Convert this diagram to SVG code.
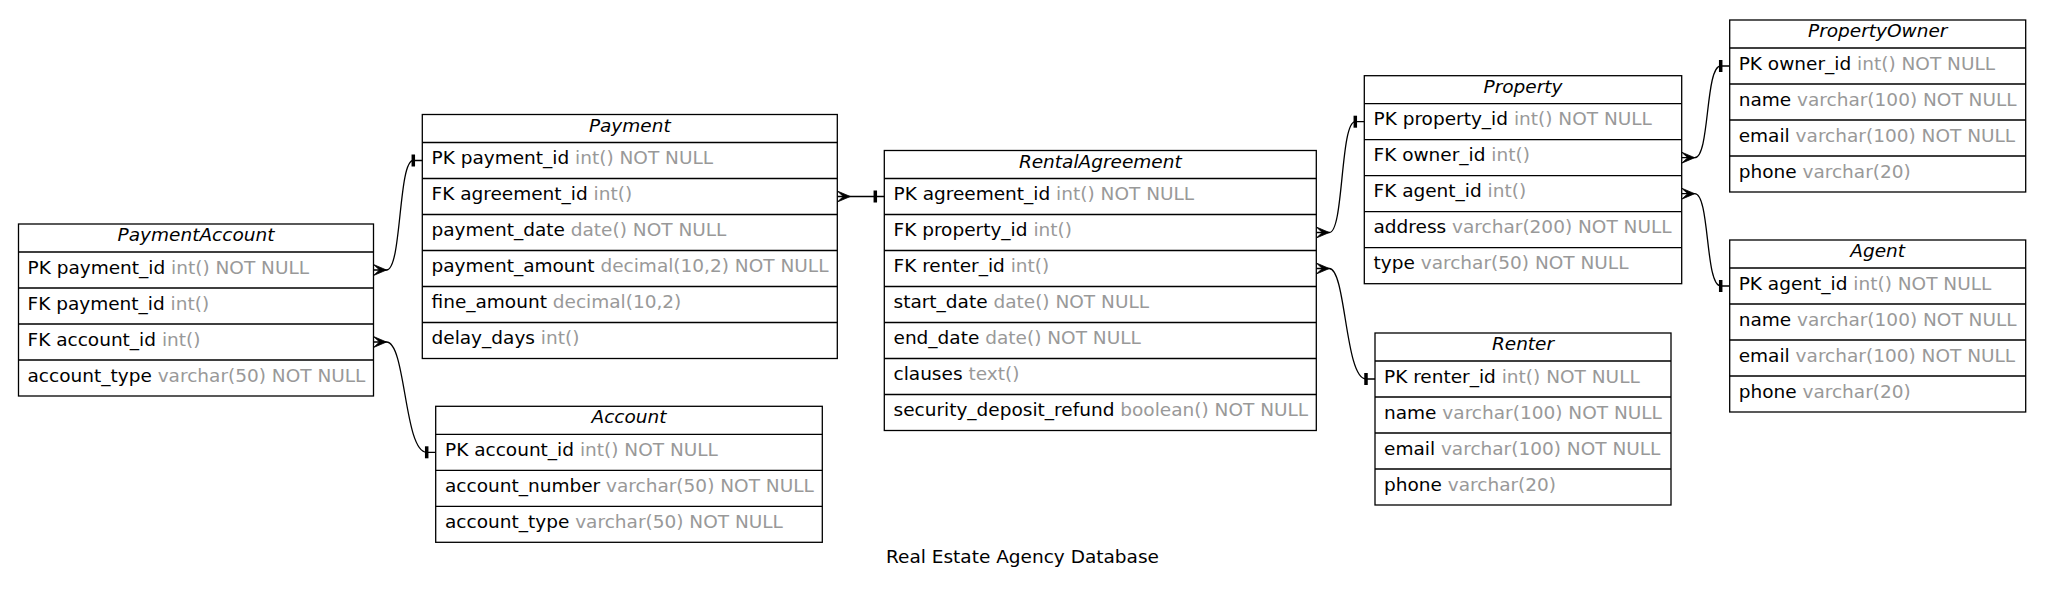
<svg xmlns="http://www.w3.org/2000/svg" width="2045" height="592" viewBox="0 0 2045 592">
<style>
text{font-family:"DejaVu Sans","Liberation Sans",sans-serif;font-size:18.5px;fill:#000}
.box{fill:#fff;stroke:#000;stroke-width:1.3}
.sep{stroke:#000;stroke-width:1.3}
.hd{font-style:italic;text-anchor:middle}
.ty{fill:#999}
.edge{fill:none;stroke:#000;stroke-width:1.3}
.tee{stroke:#000;stroke-width:3.5}
.crow{fill:#000;stroke:#000;stroke-width:0.8}
</style>
<rect width="2045" height="592" fill="#fff"/>

<g id="connectors">
  <!-- PaymentAccount.payment_id -> Payment.payment_id -->
  <path class="edge" d="M373.5,270 L386.5,270 C402,270 398,160.5 413.3,160.5 L422.3,160.5"/>
  <polygon class="crow" points="373.5,264.5 386.5,270 373.5,275.5 379.5,270"/>
  <line class="tee" x1="413.3" y1="154.5" x2="413.3" y2="166.5"/>
  <!-- PaymentAccount.account_id -> Account.account_id -->
  <path class="edge" d="M373.5,342 L386.5,342 C406,342 404,452.3 426.7,452.3 L435.7,452.3"/>
  <polygon class="crow" points="373.5,336.5 386.5,342 373.5,347.5 379.5,342"/>
  <line class="tee" x1="426.7" y1="446.3" x2="426.7" y2="458.3"/>
  <!-- Payment.agreement_id -> RentalAgreement.agreement_id -->
  <path class="edge" d="M837.3,196.5 L884.3,196.5"/>
  <polygon class="crow" points="837.3,191 850.3,196.5 837.3,202 843.3,196.5"/>
  <line class="tee" x1="875.3" y1="190.5" x2="875.3" y2="202.5"/>
  <!-- RentalAgreement.property_id -> Property.property_id -->
  <path class="edge" d="M1316.3,232.5 L1329.3,232.5 C1344,232.5 1340,121.7 1355.3,121.7 L1364.3,121.7"/>
  <polygon class="crow" points="1316.3,227 1329.3,232.5 1316.3,238 1322.3,232.5"/>
  <line class="tee" x1="1355.3" y1="115.7" x2="1355.3" y2="127.7"/>
  <!-- RentalAgreement.renter_id -> Renter.renter_id -->
  <path class="edge" d="M1316.3,268.5 L1329.3,268.5 C1346,268.5 1345,379 1366,379 L1375,379"/>
  <polygon class="crow" points="1316.3,263 1329.3,268.5 1316.3,274 1322.3,268.5"/>
  <line class="tee" x1="1366" y1="373" x2="1366" y2="385"/>
  <!-- Property.owner_id -> PropertyOwner.owner_id -->
  <path class="edge" d="M1681.7,157.7 L1694.7,157.7 C1710,157.7 1705,66 1720.7,66 L1729.7,66"/>
  <polygon class="crow" points="1681.7,152.2 1694.7,157.7 1681.7,163.2 1687.7,157.7"/>
  <line class="tee" x1="1720.7" y1="60" x2="1720.7" y2="72"/>
  <!-- Property.agent_id -> Agent.agent_id -->
  <path class="edge" d="M1681.7,193.7 L1694.7,193.7 C1710,193.7 1705,286 1720.7,286 L1729.7,286"/>
  <polygon class="crow" points="1681.7,188.2 1694.7,193.7 1681.7,199.2 1687.7,193.7"/>
  <line class="tee" x1="1720.7" y1="280" x2="1720.7" y2="292"/>
</g>

<g id="PaymentAccount">
  <rect class="box" x="18.5" y="224" width="355" height="172"/>
  <path class="sep" d="M18.5,252H373.5M18.5,288H373.5M18.5,324H373.5M18.5,360H373.5"/>
  <text class="hd" x="196" y="241">PaymentAccount</text>
  <text x="27.5" y="273.5">PK payment_id <tspan class="ty">int() NOT NULL</tspan></text>
  <text x="27.5" y="309.5">FK payment_id <tspan class="ty">int()</tspan></text>
  <text x="27.5" y="345.5">FK account_id <tspan class="ty">int()</tspan></text>
  <text x="27.5" y="381.5">account_type <tspan class="ty">varchar(50) NOT NULL</tspan></text>
</g>

<g id="Payment">
  <rect class="box" x="422.3" y="114.5" width="415" height="244"/>
  <path class="sep" d="M422.3,142.5H837.3M422.3,178.5H837.3M422.3,214.5H837.3M422.3,250.5H837.3M422.3,286.5H837.3M422.3,322.5H837.3"/>
  <text class="hd" x="629.8" y="131.5">Payment</text>
  <text x="431.5" y="164">PK payment_id <tspan class="ty">int() NOT NULL</tspan></text>
  <text x="431.5" y="200">FK agreement_id <tspan class="ty">int()</tspan></text>
  <text x="431.5" y="236">payment_date <tspan class="ty">date() NOT NULL</tspan></text>
  <text x="431.5" y="272">payment_amount <tspan class="ty">decimal(10,2) NOT NULL</tspan></text>
  <text x="431.5" y="308">fine_amount <tspan class="ty">decimal(10,2)</tspan></text>
  <text x="431.5" y="344">delay_days <tspan class="ty">int()</tspan></text>
</g>

<g id="Account">
  <rect class="box" x="435.7" y="406.3" width="386.6" height="136"/>
  <path class="sep" d="M435.7,434.3H822.3M435.7,470.3H822.3M435.7,506.3H822.3"/>
  <text class="hd" x="629" y="423.3">Account</text>
  <text x="445" y="455.8">PK account_id <tspan class="ty">int() NOT NULL</tspan></text>
  <text x="445" y="491.8">account_number <tspan class="ty">varchar(50) NOT NULL</tspan></text>
  <text x="445" y="527.8">account_type <tspan class="ty">varchar(50) NOT NULL</tspan></text>
</g>

<g id="RentalAgreement">
  <rect class="box" x="884.3" y="150.5" width="432" height="280"/>
  <path class="sep" d="M884.3,178.5H1316.3M884.3,214.5H1316.3M884.3,250.5H1316.3M884.3,286.5H1316.3M884.3,322.5H1316.3M884.3,358.5H1316.3M884.3,394.5H1316.3"/>
  <text class="hd" x="1100.3" y="167.5">RentalAgreement</text>
  <text x="893.5" y="200">PK agreement_id <tspan class="ty">int() NOT NULL</tspan></text>
  <text x="893.5" y="236">FK property_id <tspan class="ty">int()</tspan></text>
  <text x="893.5" y="272">FK renter_id <tspan class="ty">int()</tspan></text>
  <text x="893.5" y="308">start_date <tspan class="ty">date() NOT NULL</tspan></text>
  <text x="893.5" y="344">end_date <tspan class="ty">date() NOT NULL</tspan></text>
  <text x="893.5" y="380">clauses <tspan class="ty">text()</tspan></text>
  <text x="893.5" y="416">security_deposit_refund <tspan class="ty">boolean() NOT NULL</tspan></text>
</g>

<g id="Property">
  <rect class="box" x="1364.3" y="75.7" width="317.4" height="208"/>
  <path class="sep" d="M1364.3,103.7H1681.7M1364.3,139.7H1681.7M1364.3,175.7H1681.7M1364.3,211.7H1681.7M1364.3,247.7H1681.7"/>
  <text class="hd" x="1523" y="92.7">Property</text>
  <text x="1373.5" y="125.2">PK property_id <tspan class="ty">int() NOT NULL</tspan></text>
  <text x="1373.5" y="161.2">FK owner_id <tspan class="ty">int()</tspan></text>
  <text x="1373.5" y="197.2">FK agent_id <tspan class="ty">int()</tspan></text>
  <text x="1373.5" y="233.2">address <tspan class="ty">varchar(200) NOT NULL</tspan></text>
  <text x="1373.5" y="269.2">type <tspan class="ty">varchar(50) NOT NULL</tspan></text>
</g>

<g id="Renter">
  <rect class="box" x="1375" y="333" width="296" height="172"/>
  <path class="sep" d="M1375,361H1671M1375,397H1671M1375,433H1671M1375,469H1671"/>
  <text class="hd" x="1523" y="350">Renter</text>
  <text x="1384" y="382.5">PK renter_id <tspan class="ty">int() NOT NULL</tspan></text>
  <text x="1384" y="418.5">name <tspan class="ty">varchar(100) NOT NULL</tspan></text>
  <text x="1384" y="454.5">email <tspan class="ty">varchar(100) NOT NULL</tspan></text>
  <text x="1384" y="490.5">phone <tspan class="ty">varchar(20)</tspan></text>
</g>

<g id="PropertyOwner">
  <rect class="box" x="1729.7" y="20" width="296" height="172"/>
  <path class="sep" d="M1729.7,48H2025.7M1729.7,84H2025.7M1729.7,120H2025.7M1729.7,156H2025.7"/>
  <text class="hd" x="1877.7" y="37">PropertyOwner</text>
  <text x="1738.7" y="69.5">PK owner_id <tspan class="ty">int() NOT NULL</tspan></text>
  <text x="1738.7" y="105.5">name <tspan class="ty">varchar(100) NOT NULL</tspan></text>
  <text x="1738.7" y="141.5">email <tspan class="ty">varchar(100) NOT NULL</tspan></text>
  <text x="1738.7" y="177.5">phone <tspan class="ty">varchar(20)</tspan></text>
</g>

<g id="Agent">
  <rect class="box" x="1729.7" y="240" width="296" height="172"/>
  <path class="sep" d="M1729.7,268H2025.7M1729.7,304H2025.7M1729.7,340H2025.7M1729.7,376H2025.7"/>
  <text class="hd" x="1877.7" y="257">Agent</text>
  <text x="1738.7" y="289.5">PK agent_id <tspan class="ty">int() NOT NULL</tspan></text>
  <text x="1738.7" y="325.5">name <tspan class="ty">varchar(100) NOT NULL</tspan></text>
  <text x="1738.7" y="361.5">email <tspan class="ty">varchar(100) NOT NULL</tspan></text>
  <text x="1738.7" y="397.5">phone <tspan class="ty">varchar(20)</tspan></text>
</g>

<g id="title">
  <text x="1022.5" y="562.5" text-anchor="middle">Real Estate Agency Database</text>
</g>
</svg>
